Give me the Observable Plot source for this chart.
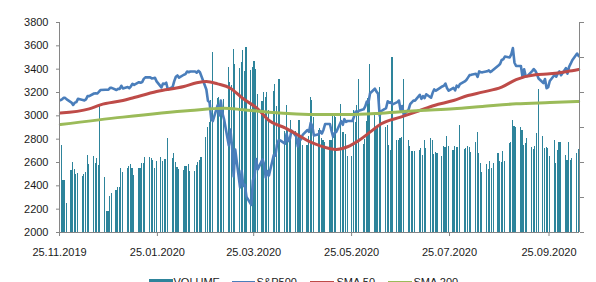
<!DOCTYPE html>
<html><head><meta charset="utf-8">
<script src="https://cdn.jsdelivr.net/npm/d3@7"></script>
<script src="https://cdn.jsdelivr.net/npm/@observablehq/plot@0.6"></script>
<style>
body{margin:0;background:#fff;font-family:"Liberation Sans",Arial,sans-serif;}
#wrap{position:relative;width:596px;height:282px;overflow:hidden;background:#fff;}
#chart{position:absolute;left:0;top:0;}
.sw{position:absolute;}
.lt{position:absolute;font-size:11px;line-height:11px;color:#1a1a1a;white-space:nowrap;}
</style></head><body>
<div id="wrap"><div id="chart"></div><div id="legend"></div></div>
<script>
// Trading calendar (weekdays; holiday rows repeat the previous day)
const startDate = "2019-11-25";
const endDate = "2020-10-13";

// S&P500 close, one value per weekday
const sp500 = [
3133.6,3140.5,3153.6,3153.6,3141.0,
3113.9,3093.2,3112.8,3117.4,3145.9,3136.0,3132.5,3141.6,3168.6,3168.8,3191.5,3192.5,3191.1,3205.4,3221.2,3224.0,3223.4,3223.4,3239.9,3240.0,3221.3,3230.8,
3230.8,3257.9,3234.9,3246.3,3237.2,3253.1,3274.7,3265.4,3288.1,3283.2,3289.3,3316.8,3329.6,3329.6,3320.8,3321.8,3325.5,3295.5,3243.6,3276.2,3273.4,3283.7,3225.5,
3248.9,3297.6,3334.7,3345.8,3327.7,3352.1,3357.8,3379.5,3373.9,3380.2,3380.2,3370.3,3386.2,3373.2,3337.8,3225.9,3128.2,3116.4,2978.8,2954.2,
3090.2,3003.4,3130.1,3023.9,2972.4,2746.6,2882.2,2741.4,2480.6,2711.0,2386.1,2529.2,2398.1,2409.4,2304.9,2237.4,2447.3,2475.6,2630.1,2541.5,2626.7,2584.6,
2470.5,2526.9,2488.7,2663.7,2659.4,2750.0,2789.8,2789.8,2761.6,2846.1,2783.4,2799.6,2874.6,2823.2,2736.6,2799.3,2797.8,2836.7,2878.5,2863.4,2939.5,2912.4,
2830.7,2842.7,2868.4,2848.4,2881.2,2929.8,2930.3,2870.1,2820.0,2852.5,2863.7,2953.9,2922.9,2971.6,2948.5,2955.5,2955.5,2991.8,3036.1,3029.7,3044.3,
3055.7,3080.8,3122.9,3112.4,3193.9,3232.4,3207.2,3190.1,3002.1,3041.3,3066.6,3124.7,3113.5,3115.3,3097.7,3117.9,3131.3,3050.3,3083.8,3009.1,3053.2,3100.3,
3115.9,3130.0,3130.0,3179.7,3145.3,3169.9,3152.1,3185.0,3155.2,3197.5,3226.6,3215.6,3224.7,3251.8,3257.3,3276.0,3235.7,3215.6,3239.4,3218.4,3258.4,3246.2,3271.1,
3294.6,3306.5,3327.8,3349.2,3351.3,3360.5,3333.7,3380.4,3373.4,3372.9,3382.0,3389.8,3374.9,3385.5,3397.2,3431.3,3443.6,3478.7,3484.6,3508.0,3500.3,
3526.7,3580.8,3455.1,3427.0,3427.0,3331.8,3399.0,3339.2,3341.0,3383.5,3401.2,3385.5,3357.0,3319.5,3281.1,3315.6,3236.9,3246.6,3298.5,3351.6,3335.5,3363.0,
3380.8,3348.4,3408.6,3361.0,3419.4,3446.8,3477.1,3534.2,3511.9
];

// Volume, billions, one value per weekday
const volume = [
3.77,4.97,2.97,2.97,1.67,
3.54,3.98,3.6,3.3,3.39,3.2,3.31,3.43,4.4,3.89,4.34,3.96,4.21,3.85,7.26,3.16,1.2,1.2,2.08,2.25,2.4,2.59,
2.59,3.67,3.43,3.68,3.77,3.89,3.64,3.26,3.64,3.64,3.96,3.92,4.3,4.3,4.21,4.11,3.64,4.08,4.27,4.08,4.17,4.2,5.4,
4.21,4.5,4.02,3.73,3.6,3.54,3.75,3.75,3.9,3.5,3.5,3.83,4.02,4.11,4.27,5.45,5.98,6.3,7.54,10.27,
7.64,7.73,6.97,7.35,7.6,9.45,8.6,8.4,10.44,9.6,9.4,9.7,10.4,9.2,10.55,9.25,9.45,9.77,9.3,7.9,7.5,8.0,
7.73,8.0,7.0,8.07,8.46,7.2,8.74,8.74,5.8,7.26,5.9,5.26,6.4,5.8,5.2,6.4,5.3,5.0,5.0,5.5,7.73,7.54,
6.6,5.83,5.92,5.4,5.26,5.16,5.26,5.26,6.8,6.63,6.55,7.3,5.7,5.73,5.6,4.34,4.34,6.97,6.3,7.26,8.74,
5.03,5.3,6.36,7.64,9.6,6.7,5.9,6.1,8.27,6.8,6.0,6.1,4.97,4.69,9.98,5.26,5.26,5.4,5.45,8.72,5.26,4.9,
4.65,4.65,4.65,4.69,4.78,4.4,5.26,4.78,5.35,5.26,4.46,4.59,4.5,4.34,4.9,4.84,5.49,4.9,4.69,4.9,4.88,4.84,6.11,
4.72,4.8,4.9,4.84,4.59,5.14,5.7,4.5,3.96,3.43,3.89,3.6,4.04,3.66,3.96,4.5,4.04,4.0,4.61,4.04,5.07,
5.14,6.4,6.06,5.98,5.98,5.83,4.97,5.07,5.35,4.88,4.72,4.91,5.64,8.15,5.5,4.78,4.88,4.78,4.34,5.26,3.92,4.69,
5.16,5.16,4.4,4.11,5.16,4.11,4.21,4.5,4.72
];

// SMA 50
const sma50Dates = ["2019-11-25","2019-12-13","2019-12-20","2020-01-03","2020-01-10","2020-01-24","2020-02-10","2020-02-18","2020-02-24","2020-03-02","2020-03-10","2020-03-18","2020-03-27","2020-04-03","2020-04-13","2020-04-21","2020-04-29","2020-05-05","2020-05-15","2020-05-22","2020-05-29","2020-06-05","2020-06-12","2020-06-24","2020-07-06","2020-07-15","2020-07-27","2020-08-05","2020-08-14","2020-08-26","2020-09-04","2020-09-16","2020-09-25","2020-10-06","2020-10-13"];
const sma50 = [3024,3060,3094,3131,3157,3209,3251,3283,3294,3274,3237,3146,3060,2960,2897,2837,2774,2743,2712,2735,2789,2860,2932,2989,3046,3089,3131,3174,3203,3246,3311,3352,3360,3380,3397];

// SMA 200
const sma200Dates = ["2019-11-25","2020-01-03","2020-02-14","2020-03-06","2020-03-18","2020-04-03","2020-05-05","2020-05-22","2020-06-12","2020-07-06","2020-07-27","2020-08-14","2020-09-04","2020-09-25","2020-10-13"];
const sma200 = [2925,2989,3046,3066,3052,3031,3011,3011,3023,3046,3060,3080,3103,3114,3123];

const xTicks = ["2019-11-25","2020-01-25","2020-03-25","2020-05-25","2020-07-25","2020-09-25"];
const yTicks = [2000,2200,2400,2600,2800,3000,3200,3400,3600,3800];
const volTicks = [0,2,4,6,8,10,12];
const seriesNames = ["VOLUME","S&P500","SMA 50","SMA 200"];
const colors = {vol:"#2E849B", sp:"#4A7EBB", s50:"#BE4B48", s200:"#9BBB59", axis:"#868686"};

const yMin = 2000, yMax = 3800, volMax = 12;
const volToY = v => yMin + v * (yMax - yMin) / volMax;
const DAY = 864e5;
const shift = (d, f) => new Date(+d + f * DAY);

const days = d3.utcDay.range(new Date(startDate), shift(new Date(endDate), 1))
  .filter(d => d.getUTCDay() !== 0 && d.getUTCDay() !== 6);
const rows = days.map((date, i) => ({date, close: sp500[i], vol: volume[i]}));
const s50 = sma50Dates.map((s, i) => ({date: new Date(s), v: sma50[i]}));
const s200 = sma200Dates.map((s, i) => ({date: new Date(s), v: sma200[i]}));
const xStart = new Date(startDate), xEnd = shift(new Date(endDate), 1);

const chart = Plot.plot({
  width: 596, height: 264,
  marginTop: 22, marginBottom: 32, marginLeft: 59, marginRight: 17,
  x: {type: "utc", domain: [xStart, xEnd]},
  y: {domain: [yMin, yMax]},
  style: {fontFamily: "'Liberation Sans', Arial, sans-serif", fontSize: "11px", color: "#1a1a1a", background: "#fff"},
  marks: [
    Plot.rectY(rows, {x1: d => shift(d.date, 0.15), x2: d => shift(d.date, 0.85), y1: yMin, y2: d => volToY(d.vol), fill: colors.vol, shapeRendering: "crispEdges"}),
    Plot.line(rows, {x: d => shift(d.date, 0.5), y: "close", stroke: colors.sp, strokeWidth: 2.6, strokeLinejoin: "round"}),
    Plot.line(s50, {x: d => shift(d.date, 0.5), y: "v", stroke: colors.s50, strokeWidth: 3, curve: "monotone-x"}),
    Plot.line(s200, {x: d => shift(d.date, 0.5), y: "v", stroke: colors.s200, strokeWidth: 3, curve: "monotone-x"}),
    Plot.ruleX([xStart, xEnd], {stroke: colors.axis}),
    Plot.ruleY([yMin], {stroke: colors.axis}),
    Plot.axisY({ticks: yTicks, tickSize: 3, tickPadding: 8, tickFormat: d => String(d), stroke: colors.axis, fill: "#1a1a1a", fontSize: 11}),
    Plot.axisY({anchor: "right", ticks: volTicks.map(volToY), tickSize: 4, tickFormat: () => "", stroke: colors.axis}),
    Plot.axisX({ticks: xTicks.map(s => new Date(s)), tickSize: 4, tickPadding: 11.5, tickFormat: d3.utcFormat("%d.%m.%Y"), stroke: colors.axis, fill: "#1a1a1a", fontSize: 11})
  ]
});
document.getElementById("chart").appendChild(chart);

// Legend (below the SVG, cut by the window edge as in the reference)
const lg = document.getElementById("legend");
const items = [
  {name: seriesNames[0], color: colors.vol, kind: "box", sx: 149, tx: 173.5},
  {name: seriesNames[1], color: colors.sp, kind: "line", sx: 231.5, tx: 256.5},
  {name: seriesNames[2], color: colors.s50, kind: "line", sx: 310, tx: 336.5},
  {name: seriesNames[3], color: colors.s200, kind: "line", sx: 388, tx: 413.5}
];
for (const it of items) {
  const sw = document.createElement("div");
  sw.className = "sw";
  sw.style.left = it.sx + "px";
  sw.style.width = "23.5px";
  sw.style.background = it.color;
  if (it.kind === "box") { sw.style.top = "279.3px"; sw.style.height = "7px"; }
  else { sw.style.top = "281px"; sw.style.height = "2.5px"; }
  lg.appendChild(sw);
  const t = document.createElement("div");
  t.className = "lt";
  t.style.left = it.tx + "px";
  t.style.top = "276.6px";
  t.textContent = it.name;
  lg.appendChild(t);
}
</script>
</body></html>
